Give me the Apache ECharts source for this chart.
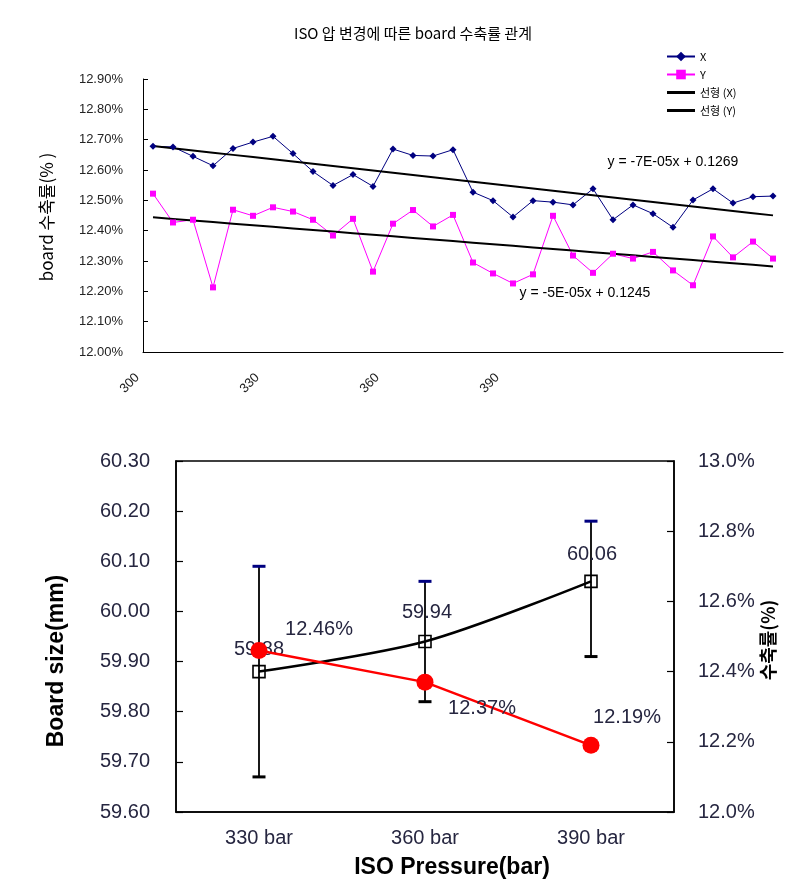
<!DOCTYPE html>
<html>
<head>
<meta charset="utf-8">
<script src="https://cdn.jsdelivr.net/npm/echarts@6/dist/echarts.min.js"></script>
<style>
html,body{margin:0;padding:0;background:#fff;}
#chart{width:810px;height:891px;}
</style>
</head>
<body>
<div id="chart"></div>
<script>
// ---------- Top chart data ----------
const topCategories = ['300','305','310','315','320','325','330','335','340','345','350','355','360','365','370','375','380','385','390','395','400','405','410','415','420','425','430','435','440','445','450','455'];
const topTickLabels = ['300','330','360','390'];
const seriesX = [12.678, 12.676, 12.645, 12.614, 12.671, 12.692, 12.711, 12.654, 12.595, 12.549, 12.585, 12.546, 12.669, 12.648, 12.646, 12.667, 12.527, 12.499, 12.445, 12.499, 12.494, 12.485, 12.538, 12.436, 12.485, 12.456, 12.411, 12.501, 12.538, 12.491, 12.512, 12.514];
const seriesY = [12.522, 12.427, 12.436, 12.213, 12.469, 12.449, 12.477, 12.463, 12.436, 12.384, 12.439, 12.265, 12.423, 12.468, 12.414, 12.452, 12.295, 12.259, 12.226, 12.256, 12.449, 12.318, 12.261, 12.324, 12.308, 12.330, 12.269, 12.220, 12.381, 12.312, 12.364, 12.308];
const eqX = 'y = -7E-05x + 0.1269';
const eqY = 'y = -5E-05x + 0.1245';

// ---------- Bottom chart data ----------
const pressures = ['330 bar','360 bar','390 bar'];
const boardSize = [59.88, 59.94, 60.06];
const sizeLow = [59.67, 59.82, 59.91];
const sizeHigh = [60.09, 60.06, 60.18];
const shrinkage = [12.46, 12.37, 12.19];

// linear trend (least squares) computed from the series
function trend(arr){
  const n = arr.length;
  let sx=0, sy=0, sxx=0, sxy=0;
  arr.forEach((v,i)=>{ const x=i+1; sx+=x; sy+=v; sxx+=x*x; sxy+=x*v; });
  const b = (n*sxy - sx*sy)/(n*sxx - sx*sx);
  const a = (sy - b*sx)/n;
  return arr.map((v,i)=> a + b*(i+1));
}

const LAT = "'Liberation Sans', Arial, 'Noto Sans CJK KR'";
const KR = "'Noto Sans CJK KR', 'Liberation Sans'";
const txtCol = '#262640';
const lineIcon = 'path://M0,0L28,0L28,3L0,3Z';

const blackOffsets = [[0,-22],[2,-29],[1,-27]];
const redOffsets = [[60,-21],[57,26],[36,-28]];

const chart = echarts.init(document.getElementById('chart'));
const option = {
  animation: false,
  backgroundColor: '#fff',
  grid: [
    {left: 143, top: 79, width: 640, height: 273, containLabel: false},
    {left: 176, top: 461, width: 498, height: 351, containLabel: false, show: true, borderColor: '#000', borderWidth: 1.5, backgroundColor: 'transparent'}
  ],
  legend: {
    data: [
      {name: 'X'}, {name: 'Y'},
      {name: '선형 (X)', icon: lineIcon},
      {name: '선형 (Y)', icon: lineIcon}
    ],
    orient: 'vertical',
    left: 661, top: 46,
    itemGap: 7, itemWidth: 28, itemHeight: 12,
    textStyle: {fontFamily: KR, fontSize: 11, color: '#000'}
  },
  xAxis: [
    {
      gridIndex: 0, type: 'category', data: topCategories, boundaryGap: true,
      axisLine: {lineStyle: {color: '#000', width: 1}},
      axisTick: {inside: true, length: 5, lineStyle: {color: '#000'}},
      axisLabel: {
        interval: 0, rotate: 45, margin: 8, padding: [0, 22, 0, 0],
        fontFamily: LAT, fontSize: 13, color: '#222',
        formatter: v => topTickLabels.includes(v) ? v : ''
      }
    },
    {
      gridIndex: 1, type: 'category', data: pressures, boundaryGap: true,
      axisLine: {lineStyle: {color: '#000', width: 1.5}},
      axisTick: {inside: true, length: 7, lineStyle: {color: '#000', width: 1.2}},
      axisLabel: {margin: 16, fontFamily: LAT, fontSize: 20, color: txtCol}
    }
  ],
  yAxis: [
    {
      gridIndex: 0, type: 'value', min: 12.0, max: 12.9, interval: 0.1,
      axisLine: {show: true, lineStyle: {color: '#000', width: 1}},
      axisTick: {show: true, inside: true, length: 5, lineStyle: {color: '#000'}},
      splitLine: {show: false},
      axisLabel: {margin: 20, fontFamily: LAT, fontSize: 13, color: '#222',
        formatter: v => v.toFixed(2) + '%'}
    },
    {
      gridIndex: 1, type: 'value', min: 59.6, max: 60.3, interval: 0.1,
      axisLine: {show: true, lineStyle: {color: '#000', width: 1.5}},
      axisTick: {show: true, inside: true, length: 7, lineStyle: {color: '#000', width: 1.2}},
      splitLine: {show: false},
      axisLabel: {margin: 26, fontFamily: LAT, fontSize: 20, color: txtCol,
        formatter: v => v.toFixed(2)}
    },
    {
      gridIndex: 1, type: 'value', position: 'right', min: 12.0, max: 13.0, interval: 0.2,
      axisLine: {show: true, lineStyle: {color: '#000', width: 1.5}},
      axisTick: {show: true, inside: true, length: 7, lineStyle: {color: '#000', width: 1.2}},
      splitLine: {show: false},
      axisLabel: {margin: 24, fontFamily: LAT, fontSize: 20, color: txtCol,
        formatter: v => v.toFixed(1) + '%'}
    }
  ],
  series: [
    {
      name: 'X', type: 'line', xAxisIndex: 0, yAxisIndex: 0, data: seriesX,
      symbol: 'diamond', symbolSize: 7,
      lineStyle: {color: '#000080', width: 1}, itemStyle: {color: '#000080'}
    },
    {
      name: 'Y', type: 'line', xAxisIndex: 0, yAxisIndex: 0, data: seriesY,
      symbol: 'rect', symbolSize: 6,
      lineStyle: {color: '#FF00FF', width: 1}, itemStyle: {color: '#FF00FF'}
    },
    {
      name: '선형 (X)', type: 'line', xAxisIndex: 0, yAxisIndex: 0, data: trend(seriesX),
      symbol: 'none', lineStyle: {color: '#000', width: 2}, itemStyle: {color: '#000'}, z: 3
    },
    {
      name: '선형 (Y)', type: 'line', xAxisIndex: 0, yAxisIndex: 0, data: trend(seriesY),
      symbol: 'none', lineStyle: {color: '#000', width: 2}, itemStyle: {color: '#000'}, z: 3
    },
    {
      name: 'err', type: 'custom', xAxisIndex: 1, yAxisIndex: 1,
      data: pressures.map((p,i)=>[i, sizeLow[i], sizeHigh[i]]),
      encode: {x: 0, y: [1,2]},
      z: 2,
      renderItem: function(params, api){
        const lo = api.coord([api.value(0), api.value(1)]);
        const hi = api.coord([api.value(0), api.value(2)]);
        const hw = 6.5;
        return {
          type: 'group',
          children: [
            {type: 'line', shape: {x1: lo[0], y1: lo[1], x2: hi[0], y2: hi[1]}, style: {stroke: '#000', lineWidth: 1.8}},
            {type: 'line', shape: {x1: lo[0]-hw, y1: lo[1], x2: lo[0]+hw, y2: lo[1]}, style: {stroke: '#000', lineWidth: 3}},
            {type: 'line', shape: {x1: hi[0]-hw, y1: hi[1], x2: hi[0]+hw, y2: hi[1]}, style: {stroke: '#000080', lineWidth: 3}}
          ]
        };
      }
    },
    {
      name: 'Board size', type: 'line', xAxisIndex: 1, yAxisIndex: 1, smooth: 0.3,
      data: boardSize.map((v,i)=>({value: v, label: {offset: blackOffsets[i]}})),
      symbol: 'rect', symbolSize: 12, z: 4,
      lineStyle: {color: '#000', width: 2.5},
      itemStyle: {color: 'transparent', borderColor: '#000', borderWidth: 1.6},
      label: {show: true, position: 'inside', fontFamily: LAT, fontSize: 20, color: txtCol,
        formatter: p => p.value.toFixed(2)}
    },
    {
      name: '수축률', type: 'line', xAxisIndex: 1, yAxisIndex: 2,
      data: shrinkage.map((v,i)=>({value: v, label: {offset: redOffsets[i]}})),
      symbol: 'circle', symbolSize: 17, z: 5,
      lineStyle: {color: '#FF0000', width: 2.5},
      itemStyle: {color: '#FF0000'},
      label: {show: true, position: 'inside', fontFamily: LAT, fontSize: 20, color: txtCol,
        formatter: p => p.value.toFixed(2) + '%'}
    }
  ],
  graphic: [
    {type: 'text', x: 413, y: 33,
      style: {text: 'ISO 압 변경에 따른 board 수축률 관계', fontFamily: KR, fontSize: 15, fill: '#000', align: 'center', verticalAlign: 'middle'}},
    {type: 'text', x: 47, y: 217, rotation: Math.PI/2,
      style: {text: 'board 수축률(% )', fontFamily: KR, fontSize: 17, fill: '#000', align: 'center', verticalAlign: 'middle'}},
    {type: 'text', x: 673, y: 162,
      style: {text: eqX, fontFamily: LAT, fontSize: 14, fill: '#000', align: 'center', verticalAlign: 'middle'}},
    {type: 'text', x: 585, y: 293,
      style: {text: eqY, fontFamily: LAT, fontSize: 14, fill: '#000', align: 'center', verticalAlign: 'middle'}},
    {type: 'text', x: 57, y: 661, rotation: Math.PI/2,
      style: {text: 'Board size(mm)', fontFamily: LAT, fontSize: 23, fontWeight: 'bold', fill: '#000', align: 'center', verticalAlign: 'middle'}},
    {type: 'text', x: 452, y: 868,
      style: {text: 'ISO Pressure(bar)', fontFamily: LAT, fontSize: 23, fontWeight: 'bold', fill: '#000', align: 'center', verticalAlign: 'middle'}},
    {type: 'text', x: 768, y: 640, rotation: Math.PI/2,
      style: {text: '수축률(%)', fontFamily: KR, fontSize: 18, fontWeight: 'bold', fill: '#000', align: 'center', verticalAlign: 'middle'}}
  ]
};
chart.setOption(option);
</script>
</body>
</html>
